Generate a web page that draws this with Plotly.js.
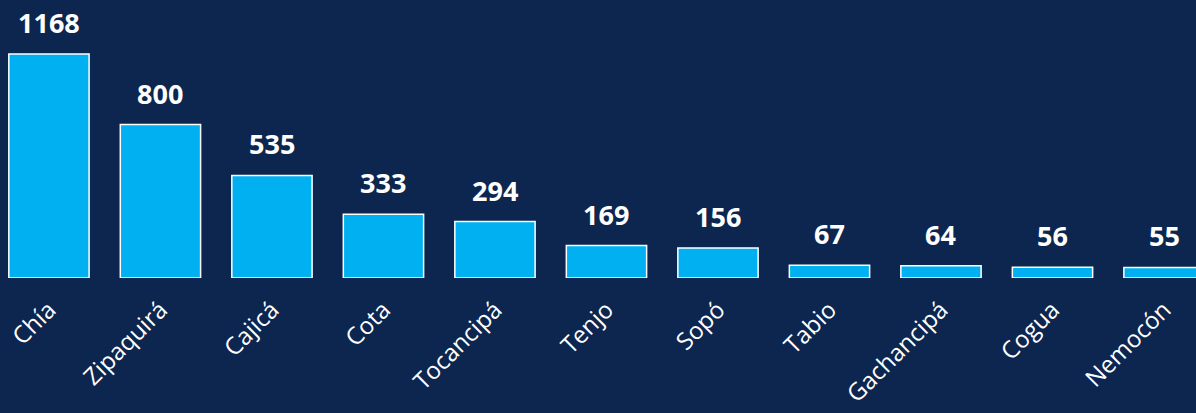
<!DOCTYPE html>
<html><head><meta charset="utf-8">
<script src="https://cdn.plot.ly/plotly-3.0.1.min.js"></script>
<style>html,body{margin:0;padding:0;background:#0c264f;}</style>
</head><body>
<div id="chart" style="width:1196px;height:413px;"></div>
<script>
const municipios = ["Chía","Zipaquirá","Cajicá","Cota","Tocancipá","Tenjo","Sopó","Tabio","Gachancipá","Cogua","Nemocón"];
const valores = [1168,800,535,333,294,169,156,67,64,56,55];

const annotations = municipios.map((m,i)=>({
  x: m, y: valores[i], xref:'x', yref:'y', text: '<b>'+valores[i]+'</b>',
  showarrow:false, yanchor:'bottom', yshift:11,
  font:{family:'Open Sans', size:27, color:'#ffffff'}
}));

Plotly.newPlot('chart', [{
  type:'bar', x: municipios, y: valores, width:0.72,
  marker:{color:'#00b0f0', line:{color:'#ffffff', width:1.5}},
  hoverinfo:'none'
}], {
  width:1196, height:413,
  margin:{l:0,r:0,t:0,b:135},
  paper_bgcolor:'#0c264f', plot_bgcolor:'#0c264f',
  showlegend:false,
  xaxis:{type:'category', range:[-0.439,10.287], tickangle:-45, showgrid:false, zeroline:false, showline:false,
         ticks:'', ticklabelstandoff:12, tickfont:{family:'Open Sans', size:24, color:'#ffffff'}},
  yaxis:{range:[0,1449.5], visible:false, showgrid:false, zeroline:false},
  annotations: annotations
}, {staticPlot:true});
</script>
</body></html>
